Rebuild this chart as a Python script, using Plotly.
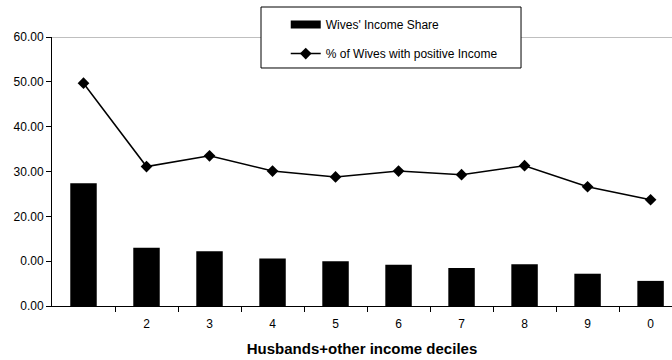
import plotly.graph_objects as go

# ---- data ----
deciles = [1, 2, 3, 4, 5, 6, 7, 8, 9, 10]
decile_labels = ["", "2", "3", "4", "5", "6", "7", "8", "9", "0"]
income_share = [27.4, 13.0, 12.2, 10.6, 10.0, 9.2, 8.5, 9.3, 7.2, 5.6]
pct_positive = [49.7, 31.1, 33.5, 30.1, 28.8, 30.1, 29.3, 31.3, 26.6, 23.7]
y_tickvals = [0, 10, 20, 30, 40, 50, 60]
y_ticktext = ["0.00", "0.00", "20.00", "30.00", "40.00", "50.00", "60.00"]
bar_name = "Wives' Income Share"
line_name = "% of Wives with positive Income"
x_title = "Husbands+other income deciles"

FONT = "Liberation Sans, Arial, sans-serif"

fig = go.Figure()
fig.add_trace(go.Bar(
    x=deciles, y=income_share, name=bar_name, showlegend=False,
    marker=dict(color="black", line=dict(width=0)),
))
fig.add_trace(go.Scatter(
    x=deciles, y=pct_positive, name=line_name, mode="lines+markers",
    line=dict(color="black", width=1.5),
    marker=dict(symbol="diamond", size=9, color="black"),
    legendgroup="b", legendrank=2,
))
# legend-only entry for the bars (wide swatch, as in the reference)
fig.add_trace(go.Scatter(
    x=[None], y=[None], name=bar_name, mode="lines",
    line=dict(color="black", width=8),
    legendgroup="a", legendrank=1,
))

boundaries = [d + 0.5 for d in deciles[:-1]]

fig.update_layout(
    width=672, height=360,
    margin=dict(l=52, r=0, t=37, b=54),
    paper_bgcolor="white", plot_bgcolor="white",
    font=dict(family=FONT, size=12, color="black"),
    bargap=0.58,
    showlegend=True,
    legend=dict(
        x=0.377, y=1.100, xanchor="left", yanchor="top",
        bgcolor="rgba(0,0,0,0)", borderwidth=0,
        font=dict(family=FONT, size=12, color="black"),
        tracegroupgap=10, traceorder="grouped",
        itemwidth=30,
    ),
    xaxis=dict(
        range=[0.5, 10.34],
        tickmode="array", tickvals=deciles, ticktext=decile_labels,
        ticks="", ticklabelstandoff=7,
        minor=dict(tickmode="array", tickvals=boundaries, ticks="outside",
                   ticklen=5, tickcolor="black", tickwidth=1, showgrid=False),
        showline=True, linecolor="black", linewidth=1,
        showgrid=False, zeroline=False,
        title=dict(text="<b>" + x_title + "</b>", standoff=13,
                   font=dict(family=FONT, size=15, color="black")),
        tickfont=dict(family=FONT, size=12, color="black"),
    ),
    yaxis=dict(
        range=[0, 60],
        tickmode="array", tickvals=y_tickvals, ticktext=y_ticktext,
        ticks="outside", ticklen=5, tickcolor="black",
        showline=True, linecolor="black", linewidth=1,
        showgrid=False, zeroline=False,
        tickfont=dict(family=FONT, size=12, color="black"),
    ),
    shapes=[
        dict(type="line", xref="paper", x0=0, x1=1, yref="y",
             y0=y_tickvals[-1], y1=y_tickvals[-1],
             line=dict(color="#808080", width=1), layer="below"),
        dict(type="rect", xref="paper", yref="paper",
             x0=0.3371, x1=0.7565, y0=0.8848, y1=1.1115,
             fillcolor="white", line=dict(color="black", width=1),
             layer="above"),
    ],
)

fig.write_html("out.html")
